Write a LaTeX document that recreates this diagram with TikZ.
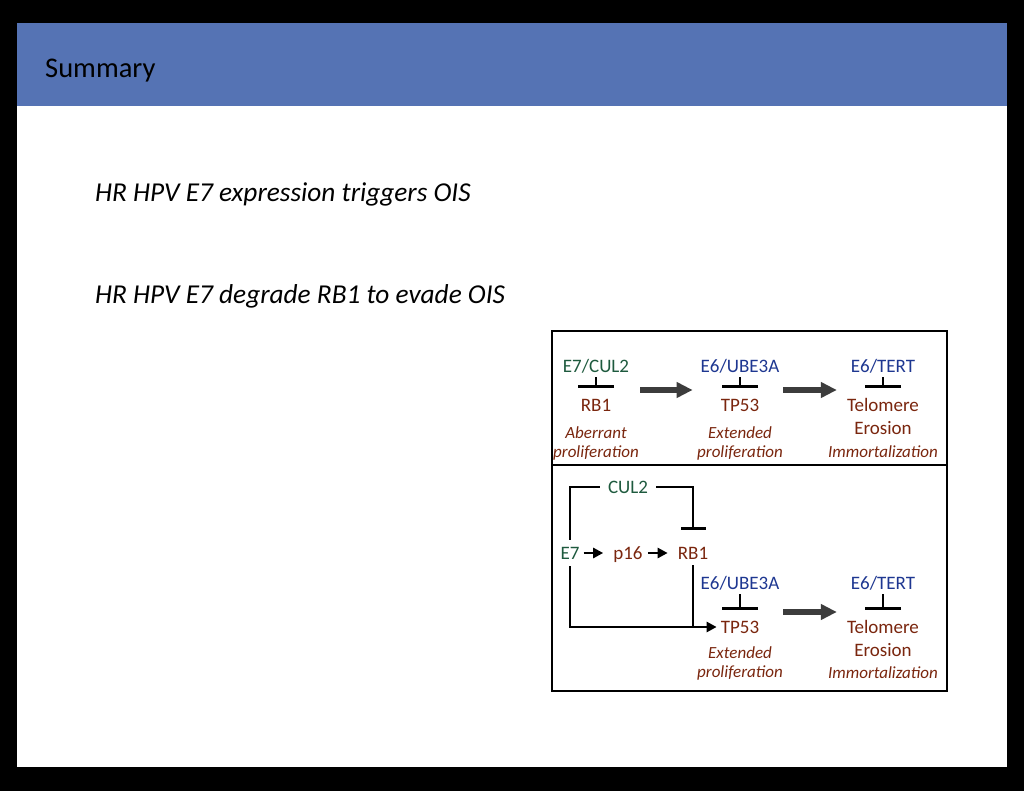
\documentclass[tikz,border=0pt]{standalone}
\usepackage{fontspec}
\setmainfont{Carlito}
\usetikzlibrary{arrows.meta}
\definecolor{hdrblue}{RGB}{85,115,180}
\definecolor{dgreen}{RGB}{30,90,62}
\definecolor{dblue}{RGB}{30,55,145}
\definecolor{dred}{RGB}{122,38,14}
\definecolor{agray}{RGB}{60,60,60}
\tikzset{
  lbl/.style={inner sep=0pt, text height=12.5pt, text depth=0pt, font=\fontsize{19}{21}\selectfont},
  gl/.style={lbl, text=dgreen},
  bl/.style={lbl, text=dblue},
  rl/.style={lbl, text=dred},
  il/.style={inner sep=0pt, text height=11pt, text depth=0pt, text=dred, font=\fontsize{17}{19}\selectfont\itshape},
  inhib/.style={line width=2.8pt, -{Bar[width=36pt, line width=2.8pt]}},
  inhibs/.style={line width=2.8pt, -{Bar[width=25pt, line width=2.8pt]}},
  thin/.style={line width=2.8pt},
  sarrow/.style={line width=2.8pt, -{Triangle[length=10pt, width=10pt]}},
  bigarrow/.style={line width=6pt, draw=agray, -{Triangle[length=16pt, width=15pt]}},
  bullet/.style={anchor=west, inner sep=0pt, font=\fontsize{27.3}{30}\selectfont\itshape},
}
\begin{document}
\begin{tikzpicture}[x=1pt, y=-1pt]
\useasboundingbox (0,0) rectangle (1024,791);
\fill[black] (0,0) rectangle (1024,791);
\fill[white] (17,23) rectangle (1007,767);
\fill[hdrblue] (17,23) rectangle (1007,106);
\node[anchor=west, inner sep=0pt, font=\fontsize{28.5}{30}\selectfont] (title) at (45,71) {Summary};
\node[bullet] (b1) at (95,194) {HR HPV E7 expression triggers OIS};
\node[bullet] (b2) at (95,296) {HR HPV E7 degrade RB1 to evade OIS};

% frame
\draw[line width=2.2pt] (552,331) rectangle (947,691);
\draw[line width=2.2pt] (552,465) -- (947,465);

% top panel
\node[gl] (a1) at (596,366) {E7/CUL2};
\node[rl] (a2) at (596,405) {RB1};
\node[il] (a3) at (596,433) {Aberrant};
\node[il] (a4) at (596,452) {proliferation};
\node[bl] (b1n) at (740,366) {E6/UBE3A};
\node[rl] (b2n) at (740,405) {TP53};
\node[il] (b3n) at (740,433) {Extended};
\node[il] (b4n) at (740,452) {proliferation};
\node[bl] (c1) at (883,366) {E6/TERT};
\node[rl] (c2) at (883,405) {Telomere};
\node[rl] (c3) at (883,428) {Erosion};
\node[il] (c4) at (883,452) {Immortalization};

\draw[inhib, shorten <=5pt, shorten >=11pt] (a1) -- (a2);
\draw[inhib, shorten <=5pt, shorten >=11pt] (b1n) -- (b2n);
\draw[inhib, shorten <=5pt, shorten >=11pt] (c1) -- (c2);
\draw[bigarrow, shorten <=29pt, shorten >=28pt] ([yshift=15pt]a2.east) -- ([yshift=15pt]b2n.west);
\draw[bigarrow, shorten <=24pt, shorten >=10pt] ([yshift=15pt]b2n.east) -- ([yshift=15pt]c2.west);

% bottom panel
\node[gl, inner xsep=8pt] (cul) at (628,487) {CUL2};
\node[gl] (e7) at (570,553) {E7};
\node[rl] (p16) at (628,553) {p16};
\node[rl] (rb) at (693,553) {RB1};
\node[bl] (d1) at (740,583) {E6/UBE3A};
\node[rl] (d2) at (740,627) {TP53};
\node[il] (d3) at (740,653) {Extended};
\node[il] (d4) at (740,672) {proliferation};
\node[bl] (f1) at (883,583) {E6/TERT};
\node[rl] (f2) at (883,627) {Telomere};
\node[rl] (f3) at (883,650) {Erosion};
\node[il] (f4) at (883,673) {Immortalization};

\draw[thin, shorten <=7pt] (e7.north) |- (cul.west);
\draw[inhibs, shorten >=17pt] (cul.east) -| (rb.north);
\draw[sarrow, shorten <=4pt, shorten >=10pt] (e7) -- (p16);
\draw[sarrow, shorten <=5pt, shorten >=10pt] (p16) -- (rb);
\draw[sarrow, shorten <=7pt, shorten >=4pt] (e7.south) |- (d2.west);
\draw[thin, shorten <=6pt] (rb.south) -- (rb.south |- d2.west);
\draw[inhib, shorten <=5pt, shorten >=11pt] (d1) -- (d2);
\draw[inhib, shorten <=5pt, shorten >=11pt] (f1) -- (f2);
\draw[bigarrow, shorten <=24pt, shorten >=10pt] ([yshift=15pt]d2.east) -- ([yshift=15pt]f2.west);
\end{tikzpicture}
\end{document}
